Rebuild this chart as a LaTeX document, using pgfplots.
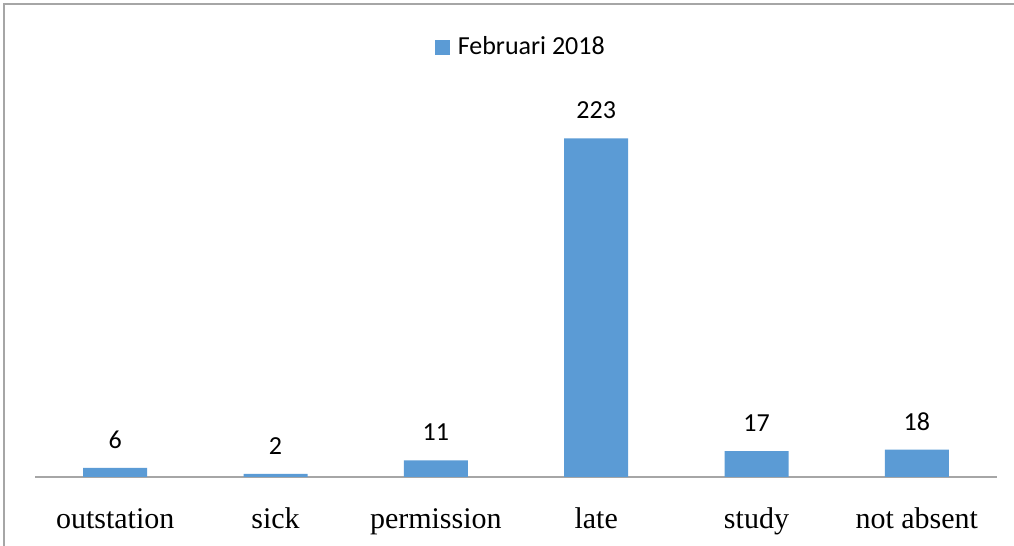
\documentclass[border=0pt]{standalone}
\usepackage{pgfplots}
\pgfplotsset{compat=1.18}
\usepackage{fontspec}
\setmainfont{Liberation Serif}
\newfontfamily\carlito{Carlito}
\definecolor{barblue}{HTML}{5B9BD5}
\definecolor{frame}{HTML}{A6A6A6}
\begin{document}
\begin{tikzpicture}
\useasboundingbox (-17.5pt,-34.5pt) rectangle (489.5pt,238.5pt);
\draw[frame, line width=1pt] (-15.5pt,-40pt) -- (-15.5pt,236.5pt) -- (495pt,236.5pt);
\begin{axis}[
  at={(0pt,0pt)}, anchor=south west,
  scale only axis,
  width=481pt, height=228.5pt,
  xmin=-0.5, xmax=5.5, ymin=0, ymax=301,
  axis x line=bottom, axis y line=none,
  x axis line style={-, draw=frame, line width=0.9pt},
  xtick={0,1,2,3,4,5},
  xticklabels={outstation, sick, permission, late, study, not absent},
  xtick style={draw=none},
  ytick=\empty,
  /pgf/number format/assume math mode=true,
  xticklabel style={font=\fontsize{15}{15}\selectfont, anchor=base, yshift=-21.5pt, inner sep=0pt},
  ybar, bar width=32pt,
  nodes near coords,
  nodes near coords style={font=\carlito\fontsize{13}{13}\selectfont, anchor=south, inner sep=0pt, yshift=9.5pt, text=black},
  legend style={draw=none, at={(0.506,0.94)}, anchor=center, font=\carlito\fontsize{13}{13}\selectfont, inner sep=0pt},
  legend image code/.code={\fill[barblue] (0pt,-3.75pt) rectangle (7.5pt,3.75pt);},
  legend cell align=left,
  clip=false,
]
\addplot[fill=barblue, draw=none] coordinates {(0,6) (1,2) (2,11) (3,223) (4,17) (5,18)};
\addlegendentry{\hspace{2pt}Februari 2018}
\end{axis}
\end{tikzpicture}
\end{document}
